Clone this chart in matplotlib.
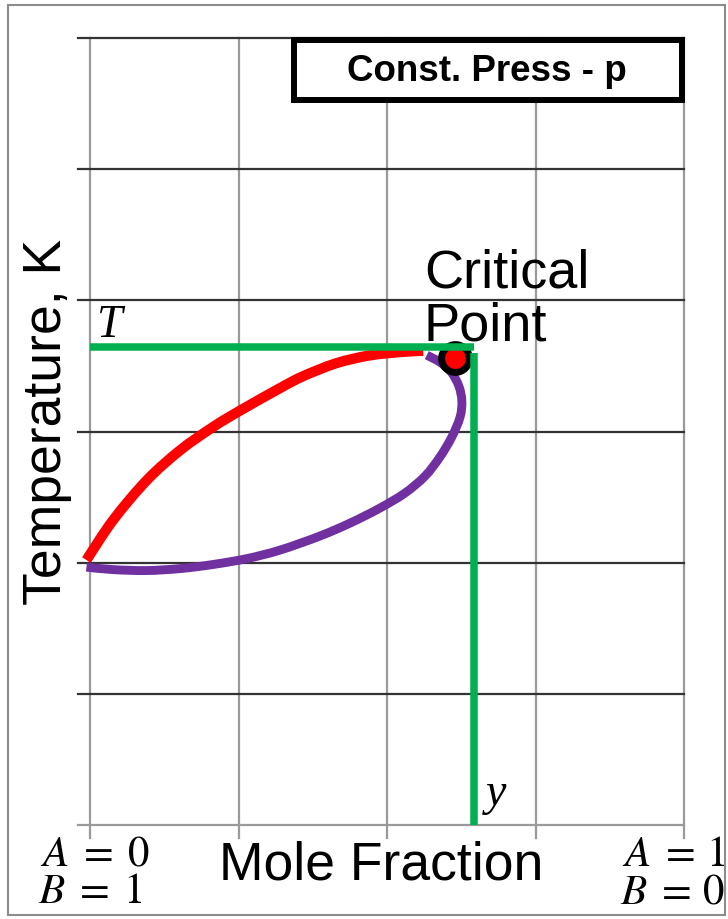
import matplotlib
matplotlib.use("Agg")
import numpy as np
import matplotlib.pyplot as plt
from matplotlib.patches import Rectangle, PathPatch
from matplotlib.path import Path

plt.rcParams['mathtext.fontset'] = 'stix'

# Composition (mole fraction of A) and temperature of the two phase boundaries
liquid_x = [-0.006, 0.039, 0.096, 0.152, 0.207, 0.251, 0.320, 0.359, 0.415, 0.471, 0.527, 0.561]
liquid_T = [2.020, 2.325, 2.630, 2.858, 3.034, 3.155, 3.331, 3.422, 3.521, 3.580, 3.607, 3.615]

vapour_x = [-0.006, 0.039, 0.096, 0.152, 0.207, 0.264, 0.320, 0.387, 0.438, 0.488,
            0.530, 0.564, 0.589, 0.609, 0.623, 0.626, 0.621, 0.608, 0.589, 0.567]
vapour_T = [1.966, 1.947, 1.940, 1.955, 1.986, 2.031, 2.096, 2.203, 2.302, 2.416,
            2.530, 2.660, 2.805, 2.957, 3.110, 3.232, 3.346, 3.453, 3.529, 3.582]

critical_x, critical_T = 0.6145, 3.559
guide_x, guide_T = 0.6465, 3.643

grid_x = [0.0, 0.25, 0.5, 0.75, 1.0]
grid_T = [0, 1, 2, 3, 4, 5, 6]


def smooth_path(xs, ys):
    """Cubic Bezier path through every point (Catmull-Rom tangents)."""
    p = np.column_stack([xs, ys]).astype(float)
    ext = np.vstack([p[0], p, p[-1]])
    verts = [p[0]]
    codes = [Path.MOVETO]
    for i in range(len(p) - 1):
        p0, p1, p2, p3 = ext[i], ext[i + 1], ext[i + 2], ext[i + 3]
        verts += [p1 + (p2 - p0) / 6, p2 - (p3 - p1) / 6, p2]
        codes += [Path.CURVE4] * 3
    return Path(verts, codes)


W, H = 728, 919
fig = plt.figure(figsize=(W / 100, H / 100), dpi=100)
ax = fig.add_axes([90 / W, (H - 825) / H, 594 / W, 787 / H])
ax.set_xlim(0, 1)
ax.set_ylim(0, 6)
for s in ax.spines.values():
    s.set_visible(False)
ax.set_xticks([])
ax.set_yticks([])

# grid with short outward stubs
for gx in grid_x:
    ax.plot([gx, gx], [-0.1, 6], color='#9a9a9a', lw=1.6, clip_on=False, zorder=1)
for gy in grid_T:
    col = '#9a9a9a' if gy == 0 else '#333333'
    ax.plot([-0.02, 1.0], [gy, gy], color=col, lw=1.6, clip_on=False, zorder=1)

# phase boundaries
ax.add_patch(PathPatch(smooth_path(liquid_x, liquid_T), fill=False, edgecolor='#ff0000',
                       lw=7.4, capstyle='butt', zorder=3, clip_on=False))
ax.add_patch(PathPatch(smooth_path(vapour_x, vapour_T), fill=False, edgecolor='#7030a0',
                       lw=6.4, capstyle='butt', zorder=4, clip_on=False))

# critical point
ax.plot([critical_x], [critical_T], 'o', ms=20, mfc='#ff0000', mec='black', mew=5, zorder=5)

# T and y guide lines
ax.plot([0, guide_x], [guide_T, guide_T], color='#00b050', lw=5.4, solid_capstyle='butt', zorder=6)
ax.plot([guide_x, guide_x], [0, 3.598], color='#00b050', lw=5.4, solid_capstyle='butt', zorder=6)

sans = 'Liberation Sans'
ax.text(0.562, 4.10, 'Critical', fontsize=39, family=sans, va='baseline', ha='left', zorder=7)
ax.text(0.562, 3.69, 'Point', fontsize=39, family=sans, va='baseline', ha='left', zorder=7)
ax.text(0.012, 3.72, 'T', fontsize=33, family='Liberation Serif', style='italic',
        va='baseline', ha='left', zorder=7)
ax.text(0.667, 0.15, 'y', fontsize=33, family='Liberation Serif', style='italic',
        va='baseline', ha='left', zorder=7)

# title box
ax.add_patch(Rectangle((0.343, 0.921), 0.653, 0.0765, transform=ax.transAxes,
                       fill=True, facecolor='white', edgecolor='black', lw=4.3, zorder=8,
                       clip_on=False))
ax.text(0.668, 0.958, 'Const. Press - p', transform=ax.transAxes, fontsize=26.5,
        family=sans, weight='bold', ha='center', va='center', zorder=9)

# axis labels
fig.text(47 / W, 1 - 422 / H, 'Temperature, K', rotation=90, fontsize=38.5, family=sans,
         ha='center', va='center')
fig.text(381 / W, 1 - 880 / H, 'Mole Fraction', fontsize=38.5, family=sans,
         ha='center', va='baseline')

# composition end labels
end_kw = dict(fontsize=31, ha='left', va='baseline')
fig.text(40 / W, 1 - 866 / H, r'$A\;=\;0$', **end_kw)
fig.text(38 / W, 1 - 903 / H, r'$B\;=\;1$', **end_kw)
fig.text(622 / W, 1 - 866 / H, r'$A\;=\,1$', **end_kw)
fig.text(620 / W, 1 - 903 / H, r'$B\;=\,0$', **end_kw)

# outer frame
fig.patches.append(Rectangle((8 / W, 4 / H), 717 / W, 910 / H, transform=fig.transFigure,
                             fill=False, edgecolor='#8c8c8c', lw=1.5))

fig.savefig('out.png', dpi=100)
